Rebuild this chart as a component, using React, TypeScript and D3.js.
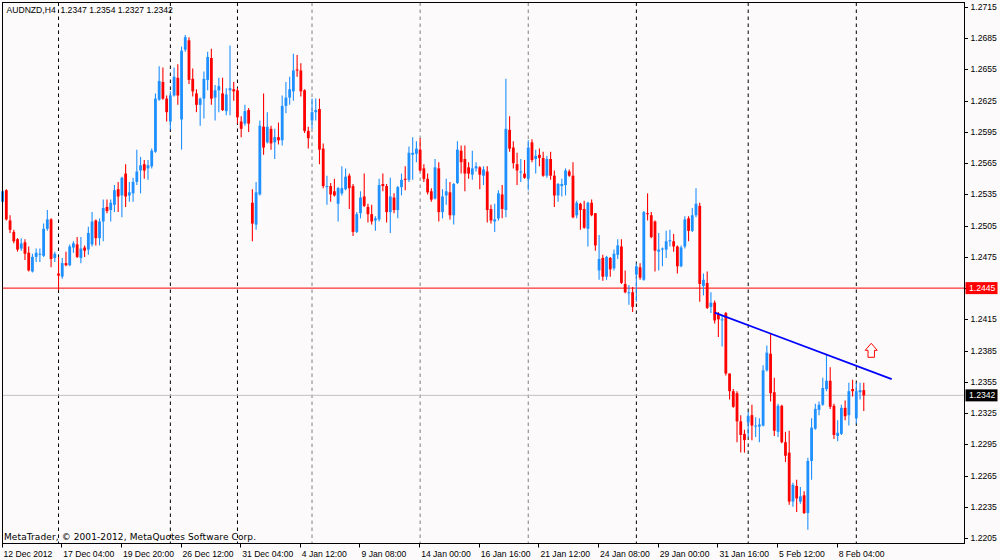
import React, { useEffect } from "react";
import * as d3 from "d3";

// ---------- DATA (AUDNZD, H4) ----------
const symbol = "AUDNZD,H4";

const open = [
1.2528,1.2539,1.2510,1.2499,1.2492,1.2483,1.2489,1.2479,1.2461,1.2475,
1.2477,1.2476,1.2502,1.2511,1.2474,1.2459,1.2456,1.2469,1.2467,1.2484,
1.2487,1.2474,1.2484,1.2482,1.2487,1.2510,1.2493,1.2509,1.2523,1.2520,
1.2525,1.2540,1.2534,1.2555,1.2534,1.2536,1.2547,1.2558,1.2564,1.2560,
1.2562,1.2576,1.2626,1.2643,1.2627,1.2605,1.2630,1.2647,1.2607,1.2674,
1.2683,1.2646,1.2632,1.2621,1.2627,1.2645,1.2666,1.2628,1.2635,1.2632,
1.2615,1.2635,1.2636,1.2635,1.2605,1.2603,1.2616,1.2527,1.2506,1.2535,
1.2600,1.2585,1.2598,1.2585,1.2590,1.2587,1.2620,1.2628,1.2634,1.2655,
1.2654,1.2635,1.2596,1.2606,1.2614,1.2617,1.2579,1.2542,1.2543,1.2538,
1.2526,1.2536,1.2540,1.2553,1.2543,1.2499,1.2517,1.2533,1.2523,1.2516,
1.2510,1.2511,1.2545,1.2543,1.2518,1.2532,1.2520,1.2542,1.2550,1.2549,
1.2573,1.2574,1.2578,1.2560,1.2550,1.2538,1.2531,1.2560,1.2518,1.2534,
1.2537,1.2515,1.2546,1.2577,1.2569,1.2561,1.2554,1.2560,1.2561,1.2553,
1.2557,1.2521,1.2509,1.2512,1.2535,1.2520,1.2597,1.2580,1.2564,1.2556,
1.2555,1.2550,1.2585,1.2569,1.2573,1.2570,1.2553,1.2569,1.2553,1.2534,
1.2543,1.2544,1.2557,1.2553,1.2515,1.2526,1.2521,1.2502,1.2527,1.2517,
1.2462,1.2474,1.2456,1.2474,1.2464,1.2477,1.2485,1.2449,1.2440,1.2441,
1.2458,1.2465,1.2453,1.2517,1.2515,1.2509,1.2480,1.2482,1.2482,1.2490,
1.2490,1.2485,1.2466,1.2485,1.2512,1.2500,1.2515,1.2524,1.2447,1.2450,
1.2427,1.2431,1.2420,1.2414,1.2421,1.2363,1.2346,1.2344,1.2317,1.2305,
1.2316,1.2323,1.2312,1.2312,1.2313,1.2366,1.2382,1.2345,1.2307,1.2332,
1.2297,1.2287,1.2240,1.2255,1.2240,1.2246,1.2229,1.2279,1.2310,1.2328,
1.2333,1.2348,1.2356,1.2332,1.2303,1.2305,1.2330,1.2323,1.2348,1.2320,
1.2345,1.2347,
];

const high = [
1.2540,1.2540,1.2515,1.2501,1.2493,1.2493,1.2492,1.2485,1.2478,1.2483,
1.2483,1.2507,1.2520,1.2512,1.2480,1.2475,1.2474,1.2480,1.2487,1.2490,
1.2494,1.2494,1.2486,1.2504,1.2518,1.2511,1.2512,1.2530,1.2530,1.2530,
1.2544,1.2547,1.2552,1.2564,1.2547,1.2551,1.2578,1.2571,1.2568,1.2568,
1.2579,1.2632,1.2658,1.2657,1.2630,1.2634,1.2657,1.2660,1.2677,1.2688,
1.2686,1.2656,1.2636,1.2628,1.2653,1.2672,1.2675,1.2640,1.2647,1.2647,
1.2637,1.2678,1.2643,1.2637,1.2610,1.2621,1.2618,1.2540,1.2547,1.2606,
1.2632,1.2614,1.2601,1.2598,1.2604,1.2630,1.2643,1.2648,1.2670,1.2669,
1.2661,1.2636,1.2600,1.2627,1.2627,1.2627,1.2584,1.2553,1.2546,1.2550,
1.2542,1.2562,1.2560,1.2555,1.2545,1.2518,1.2538,1.2555,1.2526,1.2525,
1.2514,1.2550,1.2555,1.2545,1.2551,1.2536,1.2543,1.2555,1.2562,1.2581,
1.2590,1.2586,1.2589,1.2564,1.2555,1.2541,1.2569,1.2566,1.2540,1.2550,
1.2547,1.2546,1.2586,1.2582,1.2582,1.2566,1.2577,1.2566,1.2562,1.2562,
1.2562,1.2525,1.2526,1.2539,1.2544,1.2646,1.2610,1.2586,1.2575,1.2569,
1.2568,1.2587,1.2588,1.2578,1.2579,1.2576,1.2572,1.2576,1.2558,1.2546,
1.2550,1.2560,1.2559,1.2566,1.2529,1.2527,1.2529,1.2528,1.2530,1.2517,
1.2496,1.2477,1.2476,1.2475,1.2482,1.2492,1.2492,1.2462,1.2448,1.2446,
1.2469,1.2469,1.2519,1.2536,1.2518,1.2510,1.2498,1.2484,1.2500,1.2501,
1.2497,1.2486,1.2486,1.2514,1.2514,1.2522,1.2541,1.2527,1.2459,1.2461,
1.2441,1.2433,1.2422,1.2419,1.2422,1.2363,1.2348,1.2346,1.2323,1.2309,
1.2326,1.2333,1.2321,1.2320,1.2371,1.2390,1.2402,1.2359,1.2334,1.2333,
1.2307,1.2308,1.2258,1.2261,1.2254,1.2250,1.2282,1.2320,1.2334,1.2336,
1.2359,1.2381,1.2369,1.2334,1.2318,1.2333,1.2337,1.2354,1.2357,1.2354,
1.2354,1.2354,
];

const low = [
1.2527,1.2510,1.2498,1.2488,1.2480,1.2481,1.2472,1.2461,1.2460,1.2470,
1.2470,1.2475,1.2500,1.2465,1.2470,1.2443,1.2454,1.2466,1.2466,1.2479,
1.2474,1.2469,1.2475,1.2477,1.2485,1.2486,1.2486,1.2490,1.2517,1.2509,
1.2518,1.2518,1.2513,1.2523,1.2528,1.2528,1.2544,1.2536,1.2550,1.2549,
1.2560,1.2575,1.2625,1.2626,1.2605,1.2597,1.2629,1.2621,1.2578,1.2672,
1.2641,1.2629,1.2614,1.2601,1.2608,1.2635,1.2621,1.2606,1.2614,1.2615,
1.2611,1.2611,1.2625,1.2603,1.2590,1.2601,1.2595,1.2490,1.2501,1.2534,
1.2573,1.2584,1.2578,1.2569,1.2583,1.2582,1.2613,1.2621,1.2625,1.2648,
1.2629,1.2594,1.2579,1.2598,1.2606,1.2564,1.2541,1.2525,1.2528,1.2533,
1.2509,1.2534,1.2539,1.2521,1.2495,1.2498,1.2512,1.2523,1.2508,1.2506,
1.2500,1.2509,1.2538,1.2508,1.2498,1.2517,1.2512,1.2534,1.2539,1.2547,
1.2549,1.2566,1.2557,1.2547,1.2535,1.2528,1.2530,1.2509,1.2512,1.2525,
1.2511,1.2506,1.2545,1.2555,1.2538,1.2550,1.2549,1.2557,1.2540,1.2544,
1.2508,1.2507,1.2499,1.2510,1.2512,1.2513,1.2576,1.2560,1.2544,1.2547,
1.2550,1.2539,1.2566,1.2555,1.2562,1.2552,1.2551,1.2549,1.2523,1.2528,
1.2533,1.2534,1.2552,1.2512,1.2512,1.2501,1.2502,1.2485,1.2514,1.2481,
1.2453,1.2452,1.2453,1.2456,1.2462,1.2473,1.2449,1.2440,1.2429,1.2422,
1.2432,1.2453,1.2452,1.2510,1.2493,1.2461,1.2462,1.2466,1.2474,1.2485,
1.2480,1.2459,1.2465,1.2483,1.2490,1.2499,1.2513,1.2432,1.2438,1.2425,
1.2421,1.2411,1.2398,1.2389,1.2361,1.2338,1.2330,1.2297,1.2287,1.2287,
1.2302,1.2299,1.2302,1.2297,1.2312,1.2365,1.2336,1.2303,1.2302,1.2296,
1.2278,1.2237,1.2235,1.2230,1.2238,1.2228,1.2213,1.2261,1.2309,1.2323,
1.2332,1.2346,1.2329,1.2300,1.2298,1.2304,1.2318,1.2313,1.2341,1.2315,
1.2338,1.2327,
];

const close = [
1.2538,1.2511,1.2501,1.2490,1.2482,1.2488,1.2478,1.2462,1.2475,1.2479,
1.2478,1.2502,1.2511,1.2473,1.2478,1.2457,1.2469,1.2467,1.2485,1.2488,
1.2475,1.2483,1.2481,1.2498,1.2509,1.2493,1.2509,1.2522,1.2519,1.2527,
1.2539,1.2533,1.2551,1.2533,1.2537,1.2547,1.2557,1.2563,1.2558,1.2563,
1.2577,1.2627,1.2644,1.2627,1.2614,1.2630,1.2648,1.2630,1.2673,1.2686,
1.2645,1.2634,1.2621,1.2627,1.2646,1.2667,1.2627,1.2635,1.2639,1.2616,
1.2631,1.2637,1.2634,1.2609,1.2598,1.2615,1.2603,1.2507,1.2537,1.2601,
1.2580,1.2600,1.2584,1.2590,1.2587,1.2620,1.2628,1.2636,1.2654,1.2654,
1.2634,1.2596,1.2589,1.2614,1.2616,1.2578,1.2543,1.2543,1.2535,1.2534,
1.2541,1.2541,1.2552,1.2541,1.2499,1.2516,1.2532,1.2524,1.2516,1.2509,
1.2512,1.2544,1.2543,1.2518,1.2533,1.2520,1.2542,1.2549,1.2549,1.2575,
1.2575,1.2579,1.2558,1.2550,1.2537,1.2530,1.2561,1.2518,1.2533,1.2538,
1.2515,1.2545,1.2578,1.2566,1.2555,1.2555,1.2560,1.2562,1.2554,1.2559,
1.2520,1.2510,1.2511,1.2536,1.2521,1.2598,1.2579,1.2565,1.2558,1.2557,
1.2551,1.2580,1.2568,1.2572,1.2570,1.2553,1.2569,1.2553,1.2534,1.2545,
1.2545,1.2558,1.2553,1.2513,1.2527,1.2520,1.2503,1.2527,1.2515,1.2486,
1.2473,1.2456,1.2475,1.2463,1.2478,1.2486,1.2450,1.2441,1.2441,1.2427,
1.2466,1.2455,1.2518,1.2516,1.2494,1.2481,1.2482,1.2483,1.2490,1.2491,
1.2485,1.2466,1.2484,1.2511,1.2500,1.2515,1.2526,1.2449,1.2453,1.2426,
1.2431,1.2414,1.2415,1.2415,1.2363,1.2346,1.2331,1.2317,1.2304,1.2299,
1.2322,1.2313,1.2313,1.2314,1.2366,1.2383,1.2344,1.2308,1.2332,1.2297,
1.2284,1.2240,1.2256,1.2243,1.2245,1.2229,1.2279,1.2311,1.2329,1.2333,
1.2349,1.2356,1.2331,1.2304,1.2306,1.2330,1.2322,1.2346,1.2346,1.2346,
1.2347,1.2342,
];

// time axis labels, one every 16 bars
const timeLabels = [
  "12 Dec 2012", "17 Dec 04:00", "19 Dec 20:00", "26 Dec 12:00", "31 Dec 04:00",
  "4 Jan 12:00", "9 Jan 08:00", "14 Jan 00:00", "16 Jan 16:00", "21 Jan 12:00",
  "24 Jan 08:00", "29 Jan 00:00", "31 Jan 16:00", "5 Feb 12:00", "8 Feb 04:00",
];
const labelEvery = 16;

// week separators (bar index of first bar of each week)
const separatorBars = [15, 45, 63, 83, 112, 141, 170, 200, 229];

// price axis labels
const priceTicks = [
  1.2715, 1.2685, 1.2655, 1.2625, 1.2595, 1.2565, 1.2535, 1.2505, 1.2475,
  1.2445, 1.2415, 1.2385, 1.2355, 1.2325, 1.2295, 1.2265, 1.2235, 1.2205,
];

// horizontal level and trend line objects
const levelPrice = 1.2445;
const trendBars = [191, 238.5];
const trendPrices = [1.24215, 1.23576];
const arrowBar = 233;
const arrowPrice = 1.2392;

// ---------- STYLE ----------
const BG = "#fcfafa";
const BULL = "#1e90ff";
const BEAR = "#ff0000";
const FONT = "'Liberation Sans', Arial, sans-serif";
const FS = 8.6;
// separators that appear faded in the original capture
const fadedSeparators = new Set([83, 112, 141]);

export default function App() {
  useEffect(() => {
    document.body.style.margin = "0";
    document.body.style.background = BG;
  }, []);

  const n = close.length;
  const left = 2.5, top = 2.5, right = 964.5, bottom = 543.5;

  const x = d3.scaleLinear().domain([0, n - 1]).range([2.6, 2.6 + 3.728 * (n - 1)]);
  const y = d3.scaleLinear().domain([1.2205, 1.2715]).range([538, 7]);
  const fmt = d3.format(".4f");

  const bodyW = 2.8;
  const last = n - 1;
  const title = `${symbol}  ${fmt(open[last])} ${fmt(high[last])} ${fmt(low[last])} ${fmt(close[last])}`;

  const trendLine = d3.line<number>()
    .x((d) => x(trendBars[d]))
    .y((d) => y(trendPrices[d]));

  const ax = x(arrowBar);
  const ay = y(arrowPrice);
  const arrowPath = `M${ax},${ay} L${ax + 6},${ay + 7} L${ax + 3.2},${ay + 7} L${ax + 3.2},${ay + 14} L${ax - 3.2},${ay + 14} L${ax - 3.2},${ay + 7} L${ax - 6},${ay + 7} Z`;

  return (
    <div style={{ position: "absolute", left: 0, top: 0 }}>
      <svg width={1000} height={560} style={{ display: "block", background: BG }} fontFamily={FONT}>
        <rect x={0} y={0} width={1000} height={560} fill={BG} />

        {/* week separators */}
        {separatorBars.map((b) => (
          <line key={"s" + b} x1={x(b)} x2={x(b)} y1={top} y2={bottom}
            stroke={fadedSeparators.has(b) ? "#808080" : "#000"} strokeWidth={1} strokeDasharray="3.5,3.5" />
        ))}

        {/* level line */}
        <line x1={left} x2={right} y1={y(levelPrice)} y2={y(levelPrice)} stroke="#ff0000" strokeWidth={1} />
        {/* bid line */}
        <line x1={left} x2={right} y1={y(close[last])} y2={y(close[last])} stroke="#c0c0c0" strokeWidth={1} />

        {/* candles */}
        {close.map((c, i) => {
          const o = open[i];
          const up = c >= o;
          const col = up ? BULL : BEAR;
          const cx = x(i);
          const yTop = y(Math.max(o, c));
          const yBot = y(Math.min(o, c));
          return (
            <g key={i}>
              <line x1={cx} x2={cx} y1={y(Math.max(high[i], o, c))} y2={y(Math.min(low[i], o, c))}
                stroke={col} strokeWidth={1.1} />
              <rect x={cx - bodyW / 2} y={yTop} width={bodyW} height={Math.max(1, yBot - yTop)} fill={col} />
            </g>
          );
        })}

        {/* trend line */}
        <path d={trendLine([0, 1]) || ""} stroke="#0000ff" strokeWidth={1.8} fill="none" />

        {/* arrow */}
        <path d={arrowPath} fill="#ffffff" stroke="#ff0000" strokeWidth={1} />

        {/* frame */}
        <rect x={left} y={top} width={right - left} height={bottom - top} fill="none" stroke="#000" strokeWidth={1} />

        {/* price axis */}
        {priceTicks.map((p) => (
          <g key={"p" + p}>
            <line x1={right} x2={right + 3.5} y1={Math.round(y(p)) + 0.5} y2={Math.round(y(p)) + 0.5} stroke="#000" strokeWidth={1} />
            <text x={970.5} y={y(p) + 3} fontSize={FS} fill="#000">{fmt(p)}</text>
          </g>
        ))}
        {/* level price box */}
        <rect x={965.5} y={y(levelPrice) - 6} width={32} height={12} fill="#ff0000" />
        <text x={969} y={y(levelPrice) + 3} fontSize={FS} fill="#ffffff">{fmt(levelPrice)}</text>
        {/* bid price box */}
        <rect x={965.5} y={y(close[last]) - 6} width={32} height={12} fill="#000000" />
        <text x={969} y={y(close[last]) + 3} fontSize={FS} fill="#ffffff">{fmt(close[last])}</text>

        {/* time axis */}
        {timeLabels.map((t, k) => {
          const tx = x(k * labelEvery) - 1;
          return (
            <g key={"t" + k}>
              <line x1={Math.round(tx) + 0.5} x2={Math.round(tx) + 0.5} y1={bottom} y2={bottom + 4} stroke="#000" strokeWidth={1} />
              <text x={tx + 2} y={556.5} fontSize={FS} fill="#000">{t}</text>
            </g>
          );
        })}

        {/* title and copyright */}
        <text x={6.5} y={12.5} fontSize={FS} fill="#000" style={{ whiteSpace: "pre" }}>{title}</text>
        <text x={4} y={540} fontSize={9} fill="#000" fontFamily="'DejaVu Sans', Verdana, sans-serif"
          textLength={252} lengthAdjust="spacing">MetaTrader, © 2001-2012, MetaQuotes Software Corp.</text>
      </svg>
    </div>
  );
}
